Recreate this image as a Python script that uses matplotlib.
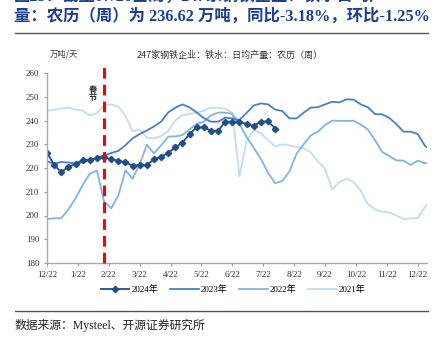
import matplotlib
matplotlib.use("Agg")
import matplotlib.pyplot as plt
import numpy as np

# weekly data, lunar-calendar aligned (万吨/天)
y2024 = [226.5, 221.3, 218.2, 220.6, 221.6, 223.4, 223.4, 224.1, 224.5, 223.7,
         223.1, 222.4, 221.0, 221.3, 221.2, 223.7, 224.8, 226.3, 228.7, 230.7,
         234.3, 237.1, 237.1, 235.7, 235.7, 239.5, 239.5, 239.5, 238.5, 237.7,
         239.5, 239.6, 236.62]
y2023 = [222.8, 221.8, 222.5, 222.3, 222.0, 222.3, 223.5, 224.3, 225.3, 226.3,
         227.2, 229.6, 232.5, 234.3, 235.8, 237.5, 239.5, 243.4, 245.4, 246.8,
         245.5, 243.4, 241.0, 239.5, 239.5, 241.2, 240.9, 240.2, 243.2, 246.3,
         247.2, 246.8, 244.6, 244.0, 240.9, 240.9, 243.3, 245.4, 245.6, 246.8,
         247.9, 247.6, 248.9, 248.8, 246.8, 245.6, 242.7, 242.6, 241.1, 238.5,
         235.3, 235.3, 234.3, 229.4, 227.0]
y2022 = [198.5, 198.8, 198.9, 202.5, 207.2, 212.8, 217.6, 218.9, 206.0, 203.0,
         208.4, 219.0, 215.5, 221.5, 229.8, 226.2, 229.5, 233.2, 233.3, 233.9,
         236.3, 238.6, 239.5, 242.2, 243.3, 243.3, 242.8, 238.5, 233.0, 228.5,
         223.8, 218.0, 213.6, 214.5, 218.5, 226.0, 230.0, 233.7, 235.3, 238.1,
         239.9, 239.9, 239.8, 239.9, 238.3, 236.2, 231.8, 226.8, 225.0, 223.2,
         223.1, 221.3, 223.1, 222.0, 222.2]
y2021 = [244.1, 244.5, 245.0, 245.4, 244.6, 244.2, 242.2, 243.0, 246.5, 246.7,
         245.9, 242.0, 235.5, 236.2, 232.7, 232.5, 233.5, 235.6, 240.0, 242.3,
         242.7, 243.3, 244.1, 245.4, 245.3, 245.0, 243.3, 216.5, 231.5, 236.0,
         234.6, 231.8, 229.0, 230.0, 229.5, 228.8, 228.3, 226.5, 222.8, 219.7,
         211.0, 214.0, 215.5, 214.0, 210.5, 204.8, 202.6, 201.6, 201.3, 200.0,
         198.5, 198.8, 199.0, 203.5, 207.0]
month_labels = ["12/22", "1/22", "2/22", "3/22", "4/22", "5/22", "6/22",
                "7/22", "8/22", "9/22", "10/22", "11/22", "12/22"]
spring_festival_week = 8.05

serif = ["Liberation Serif", "Noto Sans CJK SC"]
cjk = ["Noto Sans CJK SC", "DejaVu Sans"]

fig = plt.figure(figsize=(4.38, 3.41), dpi=100)
ax = fig.add_axes([47 / 438, 78 / 341, 380 / 438, 190 / 341])

weeks_per_month = 52.0 / 12
styles = [
    ("2021年", y2021, "#c4dcf2"),
    ("2022年", y2022, "#82b3e6"),
    ("2023年", y2023, "#4a7ecb"),
]
handles = {}
for label, ys, color in styles:
    (h,) = ax.plot(np.arange(len(ys)), ys, color=color, lw=1.3, label=label)
    handles[label] = h
(h24,) = ax.plot(np.arange(len(y2024)), y2024, color="#1f4e89", lw=1.3,
                 marker="D", ms=3.2, label="2024年")
handles["2024年"] = h24

ax.axvline(spring_festival_week, ymin=0, ymax=1.03, color="#ff0000", lw=2.2,
           ls=(0, (3.5, 2)), clip_on=False, zorder=5)
ax.text(spring_festival_week - 1.6, 251.5, "春\n节", family=cjk, fontsize=6,
        fontweight="bold", ha="center", va="center", linespacing=0.9,
        color="#333333")

ax.set_xlim(0, 53.3)
ax.set_ylim(180, 260)
ax.set_yticks(np.arange(180, 261, 10))
ax.set_xticks(np.arange(13) * weeks_per_month)
ax.set_xticklabels(month_labels)
for lab in ax.get_xticklabels() + ax.get_yticklabels():
    lab.set_family(serif)
    lab.set_fontsize(6.5)
    lab.set_color("#333333")
ax.tick_params(axis="both", length=2.5, width=0.8, color="#999999", pad=3)
for side in ("top", "right"):
    ax.spines[side].set_visible(False)
for side in ("left", "bottom"):
    ax.spines[side].set_color("#aaaaaa")
    ax.spines[side].set_linewidth(1.0)

order = ["2024年", "2023年", "2022年", "2021年"]
leg = ax.legend([handles[k] for k in order], order, loc="center",
                bbox_to_anchor=(233 / 438, 1 - 290 / 341),
                bbox_transform=fig.transFigure, ncol=4, frameon=False,
                prop={"family": serif, "size": 6.5}, handlelength=3.2,
                columnspacing=1.3, handletextpad=0.2)

fig.text(230 / 438, 1 - 55 / 341, "247家钢铁企业：铁水：日均产量：农历（周）",
         family=cjk, fontsize=6.5, ha="center", va="center", color="#333333")
fig.text(64 / 438, 1 - 54 / 341, "万吨/天", family=cjk, fontsize=6,
         ha="center", va="center", color="#333333")

title_color = "#1c3d91"
fig.text(14 / 438, 1 + 4 / 341, "图25：截至07/26当周，247家钢铁企业：铁水日均产",
         family=serif, fontsize=11.8, fontweight="bold", ha="left", va="center",
         color=title_color)
fig.text(14 / 438, 1 - 17 / 341,
         "量：农历（周）为 236.62 万吨，同比-3.18%，环比-1.25%",
         family=serif, fontsize=11.8, fontweight="bold", ha="left", va="center",
         color=title_color)
fig.add_artist(plt.Line2D([15 / 438, 428 / 438], [1 - 33 / 341, 1 - 33 / 341],
                          color="#555555", lw=1.0))
fig.add_artist(plt.Line2D([15 / 438, 428 / 438], [1 - 311 / 341, 1 - 311 / 341],
                          color="#555555", lw=1.0))
fig.text(15 / 438, 1 - 325 / 341, "数据来源：Mysteel、开源证券研究所",
         family=serif, fontsize=8.5, ha="left", va="center", color="#222222")

fig.savefig("out.png", dpi=100)
